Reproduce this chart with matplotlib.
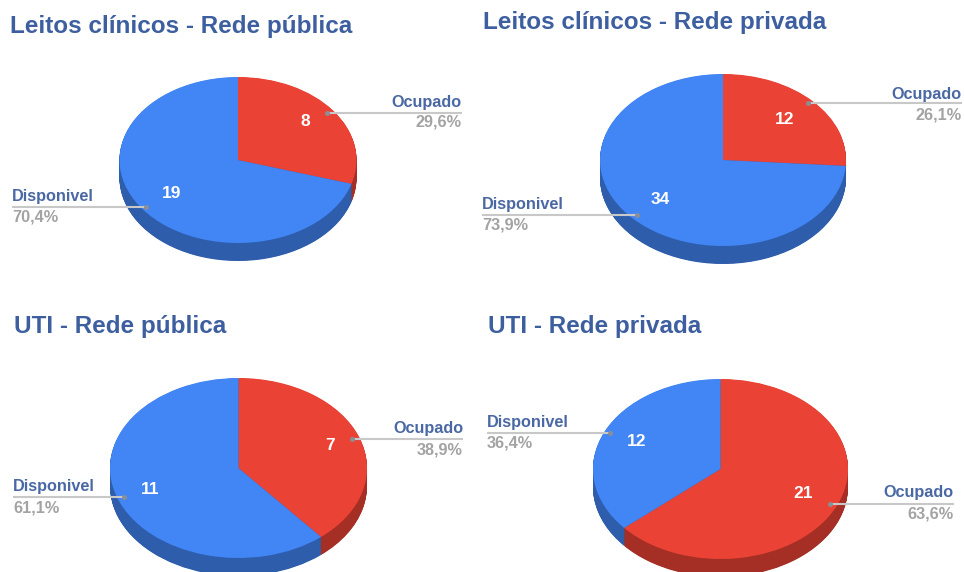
#!/usr/bin/env python3
"""Four 3D-style pies: bed occupancy, public vs private network."""
import matplotlib
matplotlib.use("Agg")
import matplotlib.pyplot as plt

W, H = 964, 572  # pixels
DPI = 100

titles = ["Leitos clínicos - Rede pública", "Leitos clínicos - Rede privada",
          "UTI - Rede pública", "UTI - Rede privada"]
categories = ["Ocupado", "Disponivel"]
ocupado = [8, 12, 7, 21]
disponivel = [19, 34, 11, 12]
pct_ocupado = ["29,6%", "26,1%", "38,9%", "63,6%"]
pct_disponivel = ["70,4%", "73,9%", "61,1%", "36,4%"]

# palette
RED, RED_D = "#ea4335", "#a52f25"
BLUE, BLUE_D = "#4285f4", "#2e5dab"
TITLE = "#3d5f9f"
LABEL = "#4a68a4"
PCT = "#a3a3a3"
LINE = "#c8c8c8"
DOT = "#8a8f96"

# layout, in picture pixels
# (cx, cy, a, b) of the top face
ELLIPSES = [(238, 160, 118.5, 83), (723, 160, 123, 86), (238.5, 468, 128.5, 90), (720.5, 469, 127.5, 90)]
DEPTH = 18
TITLE_POS = [(10, 26), (483, 22), (14, 326), (488, 326)]
# (x_dot, y, x_end, y_name, y_pct)
OC_LEAD = [(327, 113, 462, 102, 122), (808, 103, 962, 94, 115), (352, 439, 463, 429, 450), (830, 504, 954, 493, 514)]
DI_LEAD = [(146, 207, 12, 197, 217), (637, 215, 482, 205, 225), (124, 497, 13, 486, 508), (610, 433, 487, 423, 443)]
OC_NUM = [(305, 122), (785, 120), (330, 446), (803, 494)]
DI_NUM = [(172, 193), (660, 200), (150, 490), (637, 442)]

FONT = "Liberation Sans"


def pie_3d(fig, ell, vals):
    cx, cy, a, b = ell
    # axes box holds top face + the extrusion below it
    x0 = (cx - a) / W
    y0 = (H - (cy + b + DEPTH)) / H
    ax = fig.add_axes([x0, y0, 2 * a / W, (2 * b + DEPTH) / H])
    d = DEPTH / b
    for i in range(DEPTH * 2, 0, -1):
        ax.pie(vals, colors=[RED_D, BLUE_D], startangle=90, counterclock=False,
               center=(0, -d * i / (DEPTH * 2)), radius=1,
               wedgeprops=dict(linewidth=0))
    ax.pie(vals, colors=[RED, BLUE], startangle=90, counterclock=False,
           center=(0, 0), radius=1, wedgeprops=dict(linewidth=0))
    ax.set_aspect("auto")
    ax.set_xlim(-1, 1)
    ax.set_ylim(-1 - d, 1)
    ax.axis("off")


def leader(ax, lead, name, pct, right):
    xd, y, xe, yn, yp = lead
    ax.plot([xd, xe], [y, y], color=LINE, lw=1.5, zorder=2, solid_capstyle="butt")
    ax.plot([xd], [y], "o", ms=3.6, color=DOT, mew=0, zorder=3)
    ha = "right" if right else "left"
    ax.text(xe, yn, name, ha=ha, va="center", fontsize=11.7, fontweight="bold", color=LABEL)
    ax.text(xe, yp, pct, ha=ha, va="center", fontsize=11.7, fontweight="bold", color=PCT)


def main():
    plt.rcParams.update({"font.family": [FONT, "DejaVu Sans"]})
    fig = plt.figure(figsize=(W / DPI, H / DPI), dpi=DPI, facecolor="white")

    for i, ell in enumerate(ELLIPSES):
        pie_3d(fig, ell, [ocupado[i], disponivel[i]])

    # overlay in pixel coords for text and leader lines
    ov = fig.add_axes([0, 0, 1, 1], zorder=10)
    ov.set_xlim(0, W)
    ov.set_ylim(H, 0)
    ov.axis("off")

    for i in range(4):
        tx, ty = TITLE_POS[i]
        ov.text(tx, ty, titles[i], ha="left", va="center", fontsize=17.5,
                fontweight="bold", color=TITLE)
        leader(ov, OC_LEAD[i], categories[0], pct_ocupado[i], True)
        leader(ov, DI_LEAD[i], categories[1], pct_disponivel[i], False)
        ov.text(*OC_NUM[i], str(ocupado[i]), ha="center", va="center", fontsize=12.5,
                fontweight="bold", color="white", zorder=4)
        ov.text(*DI_NUM[i], str(disponivel[i]), ha="center", va="center", fontsize=12.5,
                fontweight="bold", color="white", zorder=4)

    fig.savefig("out.png", dpi=DPI)
    plt.close(fig)


if __name__ == "__main__":
    main()
